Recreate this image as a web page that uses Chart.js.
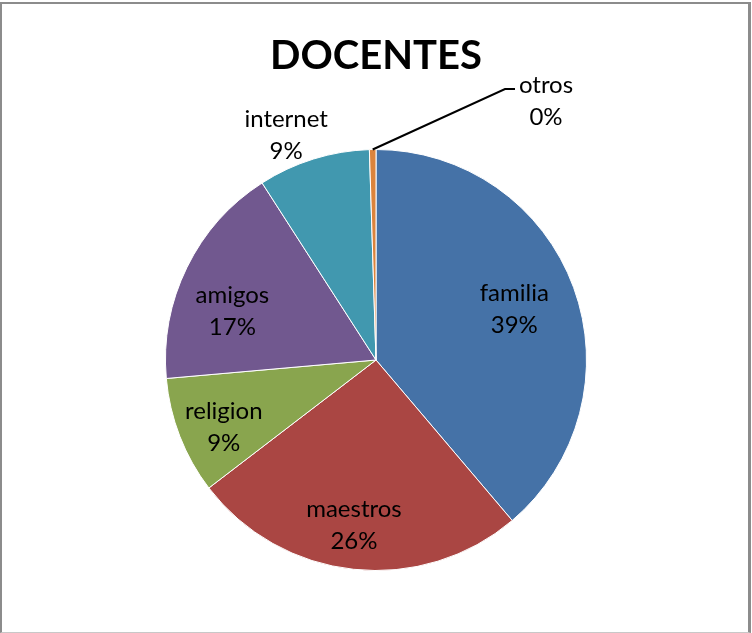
<!DOCTYPE html>
<html>
<head>
<meta charset="utf-8">
<script src="https://cdn.jsdelivr.net/npm/chart.js@4"></script>
<style>
  html, body { margin: 0; padding: 0; background: #fff; }
  #wrap { position: relative; width: 752px; height: 633px; }
  #frame {
    position: absolute; left: 0; top: 2px; width: 746px; height: 628px;
    border-left: 2px solid #8c8c8c; border-top: 2px solid #8c8c8c;
    border-right: 3px solid #8c8c8c; border-bottom: 1px solid #c8c8c8;
    pointer-events: none;
  }
</style>
</head>
<body>
<div id="wrap">
  <canvas id="chart" width="752" height="633"></canvas>
  <div id="frame"></div>
</div>
<script>
const categories = ['familia', 'maestros', 'religion', 'amigos', 'internet', 'otros']
const values = [38.8, 25.8, 9.0, 17.3, 8.6, 0.5]
const percentLabels = ['39%', '26%', '9%', '17%', '9%', '0%']
const colors = ['#4572A7', '#AA4643', '#89A54E', '#71588F', '#4198AF', '#DB843D']

// where each label sits: fraction of the radius, plus an angle nudge in degrees
const placement = [
    { r: 0.70, da: 0 },
    { r: 0.79, da: 1.5 },
    { r: 0.79, da: -2.5 },
    { r: 0.72, da: -7.5 },
    { r: 1.15, da: -4.5 },
    null
]

const labelFont = '24px Lato'
const lineGap = 32

const labelsPlugin = {
    id: 'sliceLabels',
    afterDatasetsDraw(chart) {
        const ctx = chart.ctx
        const arcs = chart.getDatasetMeta(0).data
        ctx.save()
        ctx.font = labelFont
        ctx.fillStyle = '#000'
        ctx.textAlign = 'center'
        ctx.textBaseline = 'middle'

        arcs.forEach((arc, i) => {
            const { x, y, startAngle, endAngle, outerRadius } = arc.getProps(['x', 'y', 'startAngle', 'endAngle', 'outerRadius'], true)
            const mid = (startAngle + endAngle) / 2
            const p = placement[i]

            if (p) {
                const a = mid + p.da * Math.PI / 180
                const lx = x + Math.cos(a) * outerRadius * p.r
                const ly = y + Math.sin(a) * outerRadius * p.r
                ctx.fillText(categories[i], lx, ly - lineGap / 2)
                ctx.fillText(percentLabels[i], lx, ly + lineGap / 2)
            }
            else {
                // leader line out to the right for the tiny slice
                const sx = x + Math.cos(mid) * outerRadius
                const sy = y + Math.sin(mid) * outerRadius
                const ex = x + 129
                const ey = y - 271
                ctx.strokeStyle = '#000'
                ctx.lineWidth = 2
                ctx.beginPath()
                ctx.moveTo(sx, sy)
                ctx.lineTo(ex, ey)
                ctx.lineTo(ex + 10, ey)
                ctx.stroke()
                ctx.fillText(categories[i], ex + 41, ey - 4)
                ctx.fillText(percentLabels[i], ex + 41, ey + 28)
            }
        })
        ctx.restore()
    }
}

new Chart('chart', {
    type: 'pie',
    data: {
        labels: categories,
        datasets: [{
            data: values,
            backgroundColor: colors,
            borderColor: '#ffffff',
            borderWidth: 1,
            hoverOffset: 0
        }]
    },
    options: {
        responsive: false,
        animation: false,
        layout: { padding: { top: 0, bottom: 62, left: 0, right: 0 } },
        plugins: {
            legend: { display: false },
            tooltip: { enabled: false },
            title: {
                display: true,
                text: 'DOCENTES',
                color: '#000',
                font: { family: 'Lato', size: 40, weight: 'bold', lineHeight: 1.2 },
                padding: { top: 32, bottom: 69 }
            }
        }
    },
    plugins: [labelsPlugin]
})
</script>
</body>
</html>
